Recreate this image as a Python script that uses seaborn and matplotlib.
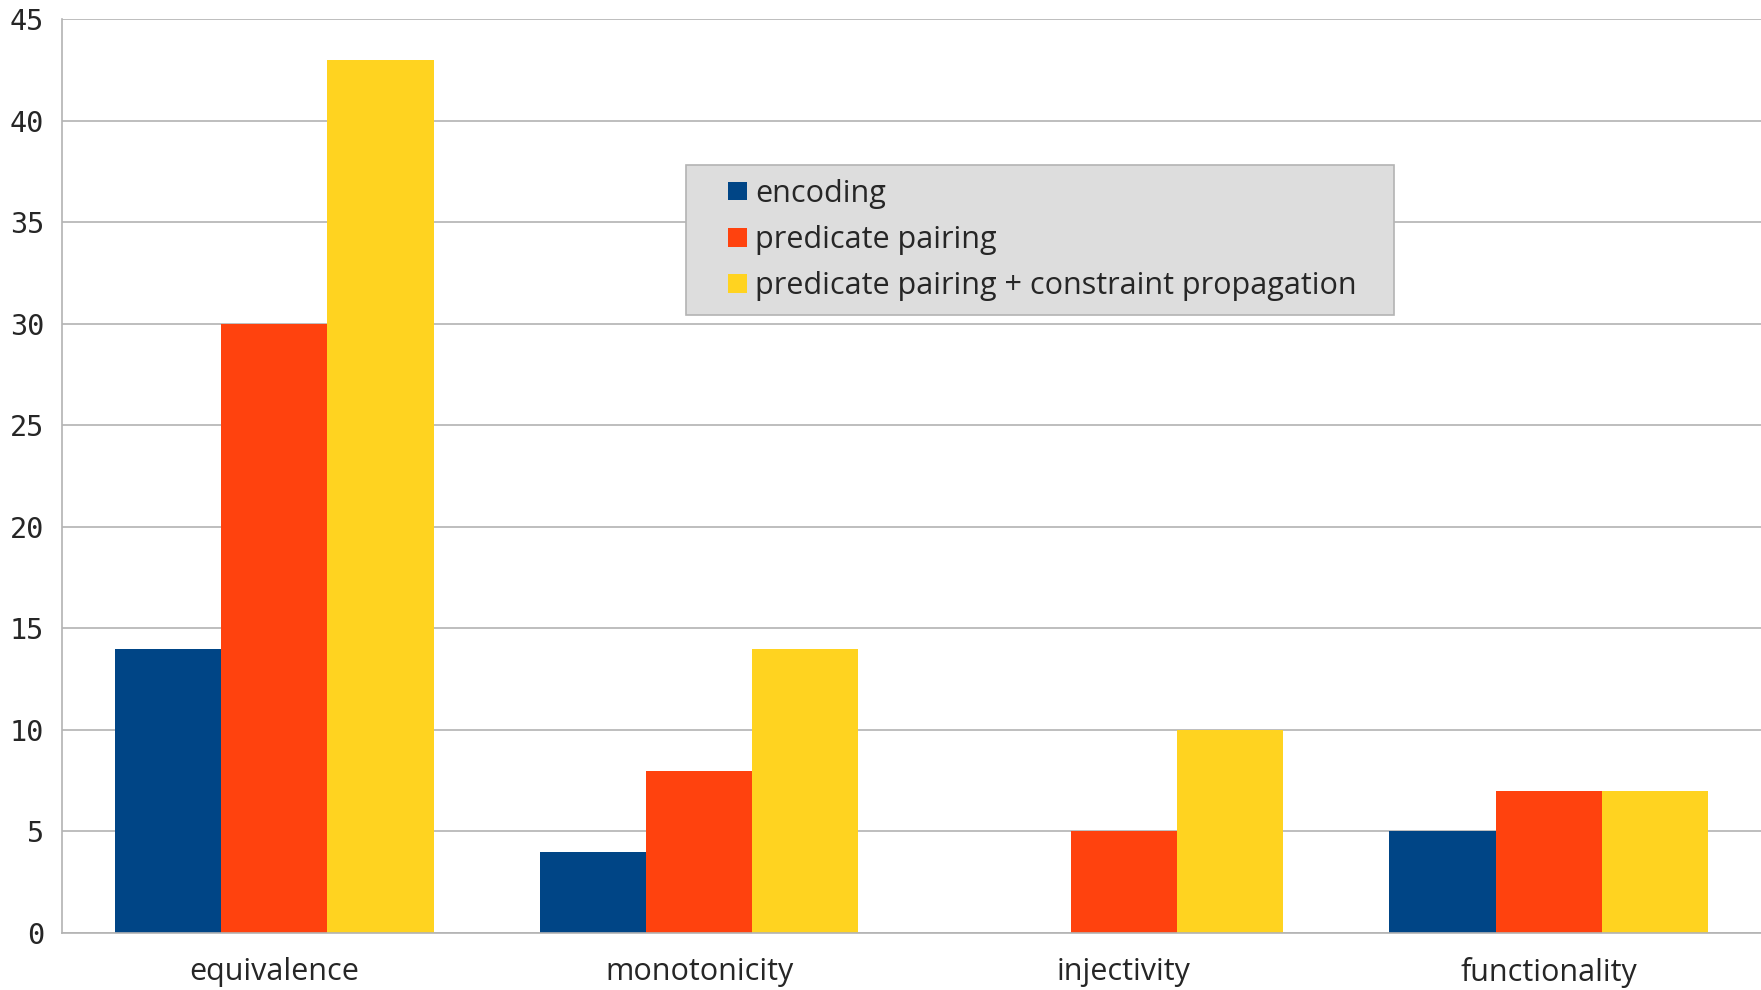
import pandas as pd
import matplotlib.pyplot as plt
import seaborn as sns
from matplotlib.patches import Rectangle
from matplotlib.legend_handler import HandlerPatch

# chart data
categories = ['equivalence', 'monotonicity', 'injectivity', 'functionality']
methods = ['encoding', 'predicate pairing', 'predicate pairing + constraint propagation']
encoding = [14, 4, 0, 5]
pairing = [30, 8, 5, 7]
pairing_cp = [43, 14, 10, 7]
colors = ['#004586', '#ff420e', '#ffd320']

df = pd.DataFrame({
    'category': categories * 3,
    'method': [methods[0]] * 4 + [methods[1]] * 4 + [methods[2]] * 4,
    'value': encoding + pairing + pairing_cp,
})

sns.set_style('white')
plt.rcParams['font.family'] = ['Open Sans', 'DejaVu Sans']

fig = plt.figure(figsize=(17.61, 9.9), dpi=100)
W, H = 1761, 990
ax = fig.add_axes([62 / W, (H - 933) / H, 1 - 62 / W, (933 - 19) / H])

sns.barplot(data=df, x='category', y='value', hue='method', palette=colors,
            width=0.75, saturation=1, ax=ax, linewidth=0, legend=True)

grid_c = '#b3b3b3'
ax.set_xlim(-0.5, 3.5)
ax.set_ylim(0, 45)
ax.set_yticks(range(0, 46, 5))
ax.yaxis.grid(True, color=grid_c, linewidth=1.2)
ax.set_axisbelow(True)
ax.set_xlabel('')
ax.set_ylabel('')

for side in ['top', 'right']:
    ax.spines[side].set_visible(False)
for side in ['left', 'bottom']:
    ax.spines[side].set_color(grid_c)
    ax.spines[side].set_linewidth(1.2)

ax.set_xticks([-0.5, 0.5, 1.5, 2.5], minor=True)
ax.tick_params(axis='x', which='major', length=0, pad=17, labelsize=22)
ax.tick_params(axis='x', which='minor', length=11, color=grid_c, width=1.2)
ax.tick_params(axis='y', length=10, color=grid_c, width=1.2, pad=3, labelsize=20.5)
for lbl in ax.get_yticklabels():
    lbl.set_fontfamily('DejaVu Sans Mono')


# small square legend keys, pushed to the right end of the handle area
def square_key(legend, orig_handle, xdescent, ydescent, width, height, fontsize):
    s = 13.5  # points
    return Rectangle((width - s - xdescent, (height - s) / 2 - ydescent), s, s)


handles, labels = ax.get_legend_handles_labels()
leg = ax.legend(handles, labels, loc='upper left',
                bbox_to_anchor=(0.3673, 0.8403 - 0.163, 0.4167, 0.163),
                mode='expand', borderaxespad=0,
                fontsize=22, frameon=True, fancybox=False, framealpha=1,
                facecolor='#dddddd', edgecolor='#b3b3b3',
                handler_map={h: HandlerPatch(patch_func=square_key) for h in handles},
                handlelength=1.55, handleheight=0.6, handletextpad=0.25,
                borderpad=0.45, labelspacing=0.53)
leg.get_frame().set_linewidth(1.2)

fig.savefig('out.png', dpi=100)
